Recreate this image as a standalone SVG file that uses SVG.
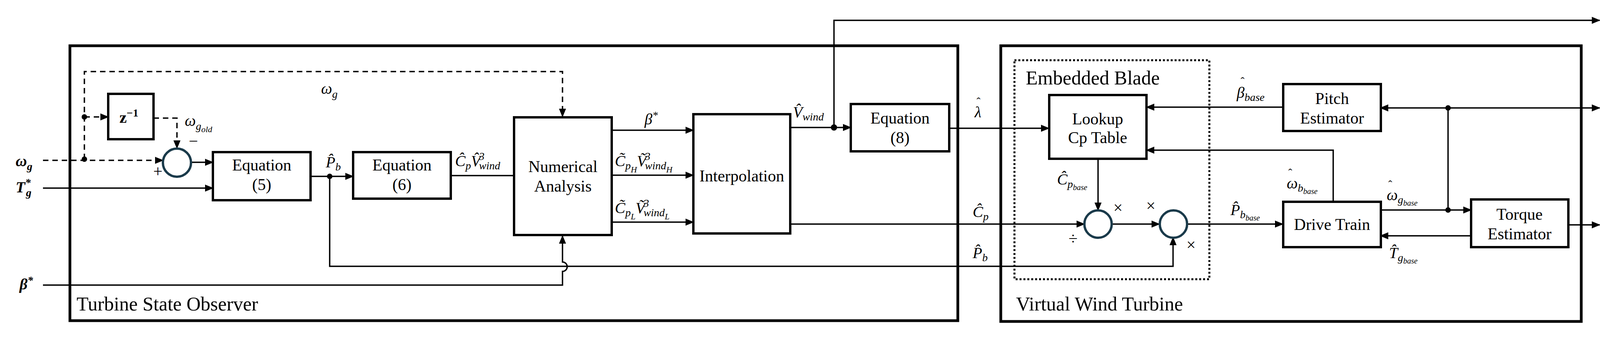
<svg xmlns="http://www.w3.org/2000/svg" width="4261" height="872" viewBox="0 0 4261 872">
<defs>
<marker id="ar" markerUnits="userSpaceOnUse" markerWidth="22" markerHeight="18" refX="20" refY="9" orient="auto"><path d="M0,0 L22,9 L0,18 z" fill="#000"/></marker>
<style>
.box{fill:#fff;stroke:#000;stroke-width:6}
.frame{fill:none;stroke:#000;stroke-width:7}
.c{fill:none;stroke:#000;stroke-width:3.5}
.d{fill:none;stroke:#000;stroke-width:3.5;stroke-dasharray:14,10}
.sum{fill:#fff;stroke:#1a3a4a;stroke-width:6}
.t{font-family:"Liberation Serif",serif;font-size:42px;fill:#000;text-anchor:middle}
.ttl{font-family:"Liberation Serif",serif;font-size:50px;fill:#000}
.m{font-family:"Liberation Serif",serif;font-style:italic;font-size:40px;fill:#000}
.h{font-family:"Liberation Serif",serif;font-size:30px;fill:#000}
.s{font-size:28px}
.b{font-weight:bold}
</style>
</defs>
<g id="frames">
<rect class="frame" x="179" y="117" width="2273" height="703"/>
<rect class="frame" x="2562" y="117" width="1486" height="705"/>
<rect x="2597" y="154" width="499" height="560" fill="none" stroke="#000" stroke-width="5" stroke-dasharray="5,5"/>
<text class="ttl" x="196" y="794">Turbine State Observer</text>
<text class="ttl" x="2601" y="794">Virtual Wind Turbine</text>
<text class="ttl" x="2626" y="216">Embedded Blade</text>
</g>
<g id="connectors">
<path class="d" d="M110,410 H417" marker-end="url(#ar)"/>
<path class="d" d="M216,407 V183 H1440 V298" marker-end="url(#ar)"/>
<path class="d" d="M216,299 H277" marker-end="url(#ar)"/>
<path class="d" d="M393,302 H453 V379" marker-end="url(#ar)"/>
<path class="c" d="M489,415 H545" marker-end="url(#ar)"/>
<path class="c" d="M110,481 H545" marker-end="url(#ar)"/>
<path class="c" d="M795,451 H904" marker-end="url(#ar)"/>
<path class="c" d="M1154,449 H1315"/>
<path class="c" d="M844,451 V681 H3003 V607" marker-end="url(#ar)"/>
<path class="c" d="M110,729 H1440 V694 A12,12 0 0 0 1440,670 V603" marker-end="url(#ar)"/>
<path class="c" d="M1566,333 H1775" marker-end="url(#ar)"/>
<path class="c" d="M1566,448 H1775" marker-end="url(#ar)"/>
<path class="c" d="M1566,568 H1775" marker-end="url(#ar)"/>
<path class="c" d="M2023,326 H2178" marker-end="url(#ar)"/>
<path class="c" d="M2135,326 V52 H4095" marker-end="url(#ar)"/>
<path class="c" d="M2430,328 H2685" marker-end="url(#ar)"/>
<path class="c" d="M2023,573 H2776" marker-end="url(#ar)"/>
<path class="c" d="M2811,408 V538" marker-end="url(#ar)"/>
<path class="c" d="M2846,573 H2968" marker-end="url(#ar)"/>
<path class="c" d="M3038,573 H3284" marker-end="url(#ar)"/>
<path class="c" d="M3284,274 H2935" marker-end="url(#ar)"/>
<path class="c" d="M3707,276 H3534" marker-end="url(#ar)"/>
<path class="c" d="M3707,276 H4095" marker-end="url(#ar)"/>
<path class="c" d="M3707,276 V537"/>
<path class="c" d="M3534,537 H3766" marker-end="url(#ar)"/>
<path class="c" d="M3766,603 H3534" marker-end="url(#ar)"/>
<path class="c" d="M4015,575 H4095" marker-end="url(#ar)"/>
<path class="c" d="M3413,514 V384 H2935" marker-end="url(#ar)"/>
<circle cx="216" cy="407" r="7"/><circle cx="216" cy="299" r="7"/>
<circle cx="844" cy="451" r="7"/><circle cx="2135" cy="326" r="8"/>
<circle cx="3707" cy="276" r="7"/><circle cx="3707" cy="537" r="7"/>
</g>
<g id="sum1"><circle class="sum" cx="453" cy="416" r="36"/></g>
<g id="z"><rect class="box" x="277" y="240" width="116" height="116"/><text class="t b" x="330" y="314" font-size="40">z<tspan dy="-16" font-size="28">−1</tspan></text></g>
<g id="eq5"><rect class="box" x="545" y="389" width="250" height="123"/><text class="t" x="670" y="436">Equation</text><text class="t" x="670" y="486">(5)</text></g>
<g id="eq6"><rect class="box" x="904" y="389" width="250" height="119"/><text class="t" x="1029" y="436">Equation</text><text class="t" x="1029" y="486">(6)</text></g>
<g id="na"><rect class="box" x="1316" y="300" width="250" height="301"/><text class="t" x="1441" y="440">Numerical</text><text class="t" x="1441" y="490">Analysis</text></g>
<g id="interp"><rect class="box" x="1775" y="292" width="248" height="305"/><text class="t" x="1899" y="464">Interpolation</text></g>
<g id="eq8"><rect class="box" x="2178" y="266" width="252" height="121"/><text class="t" x="2304" y="316">Equation</text><text class="t" x="2304" y="366">(8)</text></g>
<g id="lookup"><rect class="box" x="2686" y="243" width="249" height="163"/><text class="t" x="2810" y="318">Lookup</text><text class="t" x="2810" y="366">Cp Table</text></g>
<g id="sum2"><circle class="sum" cx="2811" cy="573" r="35"/></g>
<g id="sum3"><circle class="sum" cx="3004" cy="573" r="35"/></g>
<g id="pitch"><rect class="box" x="3285" y="215" width="250" height="120"/><text class="t" x="3410" y="266">Pitch</text><text class="t" x="3410" y="316">Estimator</text></g>
<g id="drive"><rect class="box" x="3285" y="516" width="250" height="116"/><text class="t" x="3410" y="588">Drive Train</text></g>
<g id="torque"><rect class="box" x="3766" y="510" width="249" height="122"/><text class="t" x="3890" y="562">Torque</text><text class="t" x="3890" y="612">Estimator</text></g>
<g id="labels">
<text class="m b" x="40" y="425">ω<tspan class="s" dy="10">g</tspan></text>
<text class="m b" x="40" y="492">T<tspan class="s" dy="-16">*</tspan><tspan class="s" dx="-12" dy="26">g</tspan></text>
<text class="m b" x="50" y="740">β<tspan class="s" dy="-14">*</tspan></text>
<text class="m" x="822" y="240">ω<tspan class="s" dy="10">g</tspan></text>
<text class="m" x="473" y="322">ω<tspan class="s" dy="10">g</tspan><tspan font-size="22" dy="6">old</tspan></text>
<text class="t" x="495" y="375">−</text>
<text class="t" x="404" y="452">+</text>
<text class="m" x="834" y="428">P̂<tspan class="s" dy="8">b</tspan></text>
<text class="m" x="1165" y="425">Ĉ<tspan class="s" dy="8">p</tspan><tspan dy="-8">V̂</tspan><tspan class="s" dx="-4" dy="-16">3</tspan><tspan class="s" dx="-14" dy="24">wind</tspan></text>
<text class="m" x="1650" y="318">β<tspan class="s" dy="-14">*</tspan></text>
<text class="m" x="1574" y="425">C̃<tspan class="s" dy="8">p</tspan><tspan font-size="22" dy="8">H</tspan><tspan dy="-16">Ṽ</tspan><tspan class="s" dx="-4" dy="-16">3</tspan><tspan class="s" dx="-14" dy="24">wind</tspan><tspan font-size="22" dy="8">H</tspan></text>
<text class="m" x="1574" y="545">C̃<tspan class="s" dy="8">p</tspan><tspan font-size="22" dy="8">L</tspan><tspan dy="-16">Ṽ</tspan><tspan class="s" dx="-4" dy="-16">3</tspan><tspan class="s" dx="-14" dy="24">wind</tspan><tspan font-size="22" dy="8">L</tspan></text>
<text class="m" x="2030" y="300">V̂<tspan class="s" dy="8">wind</tspan></text>
<text class="m" x="2495" y="300">λ</text><text class="h" x="2500" y="270">ˆ</text>
<text class="m" x="2490" y="555">Ĉ<tspan class="s" dy="8">p</tspan></text>
<text class="m" x="2490" y="660">P̂<tspan class="s" dy="8">b</tspan></text>
<text class="m b" x="4118" y="62">V̂<tspan font-size="25" dy="8">wind</tspan></text>
<text class="m" x="3166" y="250">β<tspan class="s" dy="8">base</tspan></text><text class="h" x="3176" y="218">ˆ</text>
<text class="m b" x="4108" y="288">ω<tspan font-size="26" dy="8">g</tspan><tspan font-size="19" dy="6">base</tspan></text><text class="h b" x="4112" y="258">ˆ</text>
<text class="m" x="2706" y="472">Ĉ<tspan class="s" dy="8">p</tspan><tspan font-size="20" dy="6">base</tspan></text>
<text class="t" x="2862" y="545" font-size="34">×</text>
<text class="t" x="2946" y="540" font-size="34">×</text>
<text class="t" x="3049" y="640" font-size="34">×</text>
<text class="t" x="2747" y="624" font-size="34">÷</text>
<text class="m" x="3150" y="550">P̂<tspan class="s" dy="8">b</tspan><tspan font-size="20" dy="6">base</tspan></text>
<text class="m" x="3294" y="482">ω<tspan class="s" dy="8">b</tspan><tspan font-size="20" dy="6">base</tspan></text><text class="h" x="3298" y="452">ˆ</text>
<text class="m" x="3550" y="512">ω<tspan class="s" dy="8">g</tspan><tspan font-size="20" dy="6">base</tspan></text><text class="h" x="3554" y="482">ˆ</text>
<text class="m" x="3556" y="660">T̂<tspan class="s" dy="8">g</tspan><tspan font-size="20" dy="6">base</tspan></text>
<text class="m b" x="4104" y="588">P̂<tspan font-size="26" dy="8">g</tspan><tspan font-size="19" dy="6">base</tspan></text>
</g>
</svg>
